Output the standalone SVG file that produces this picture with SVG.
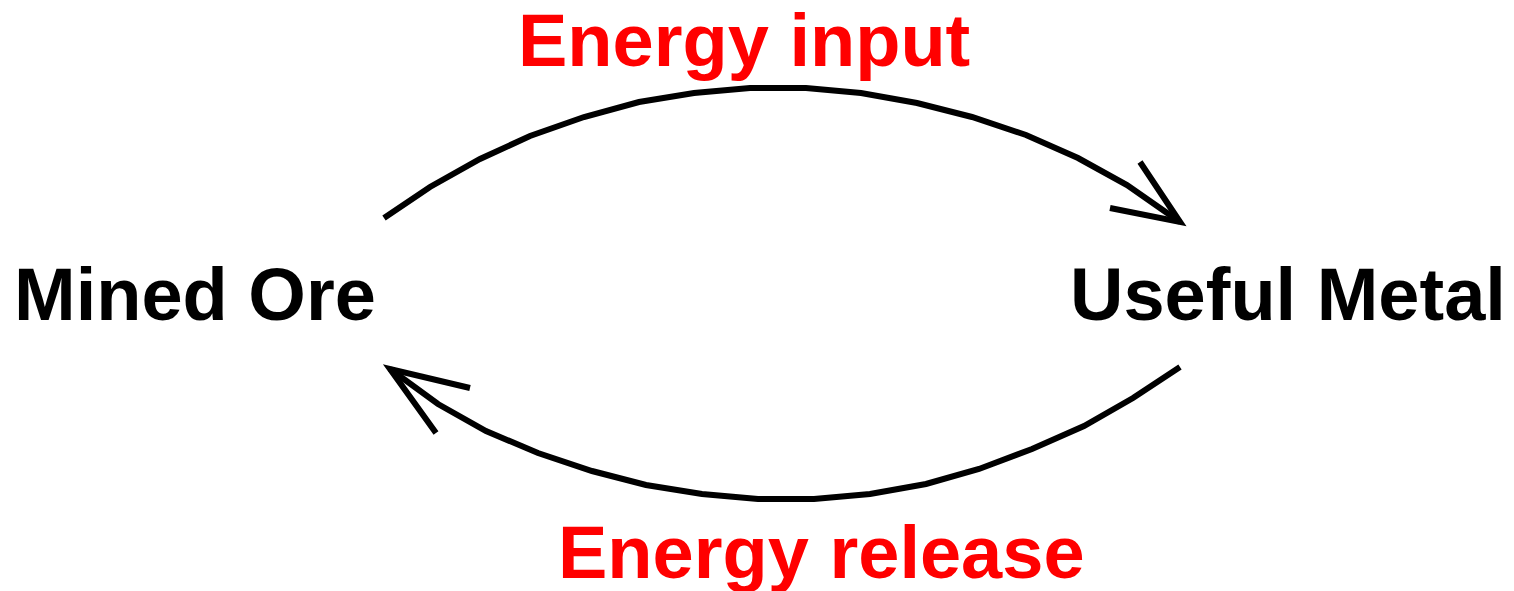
<svg xmlns="http://www.w3.org/2000/svg" width="1514" height="591" viewBox="0 0 1514 591">
<style>
.lbl{font-family:"Liberation Sans",Arial,sans-serif;font-weight:bold;font-size:74px}
.node{fill:#000}
.energy{fill:#ff0000}
.conn{fill:none;stroke:#000;stroke-width:6;stroke-linejoin:miter}
</style>
<rect width="1514" height="591" fill="#fff"/>
<g id="mined-ore"><text class="lbl node" x="14" y="320">Mined Ore</text></g>
<g id="useful-metal"><text class="lbl node" x="1070" y="320">Useful Metal</text></g>
<g id="connectors">
<polyline class="conn" points="384,218 430,187 480,159 530,136 584,117 639,102 694,93 750,88 806,88 861,93 917,103 972,117 1026,135 1078,158 1127,185 1180,222"/>
<polyline class="conn" points="1140,162 1180,222 1110,208"/>
<polyline class="conn" points="1180,367 1133,398 1084,426 1032,449 979,469 926,484 870,494 814,499 758,499 702,494 646,485 592,471 538,453 486,431 438,404 390,369"/>
<polyline class="conn" points="470,388 390,369 436,433"/>
<text class="lbl energy" x="518" y="66">Energy input</text>
<text class="lbl energy" x="558" y="578">Energy release</text>
</g>
</svg>
